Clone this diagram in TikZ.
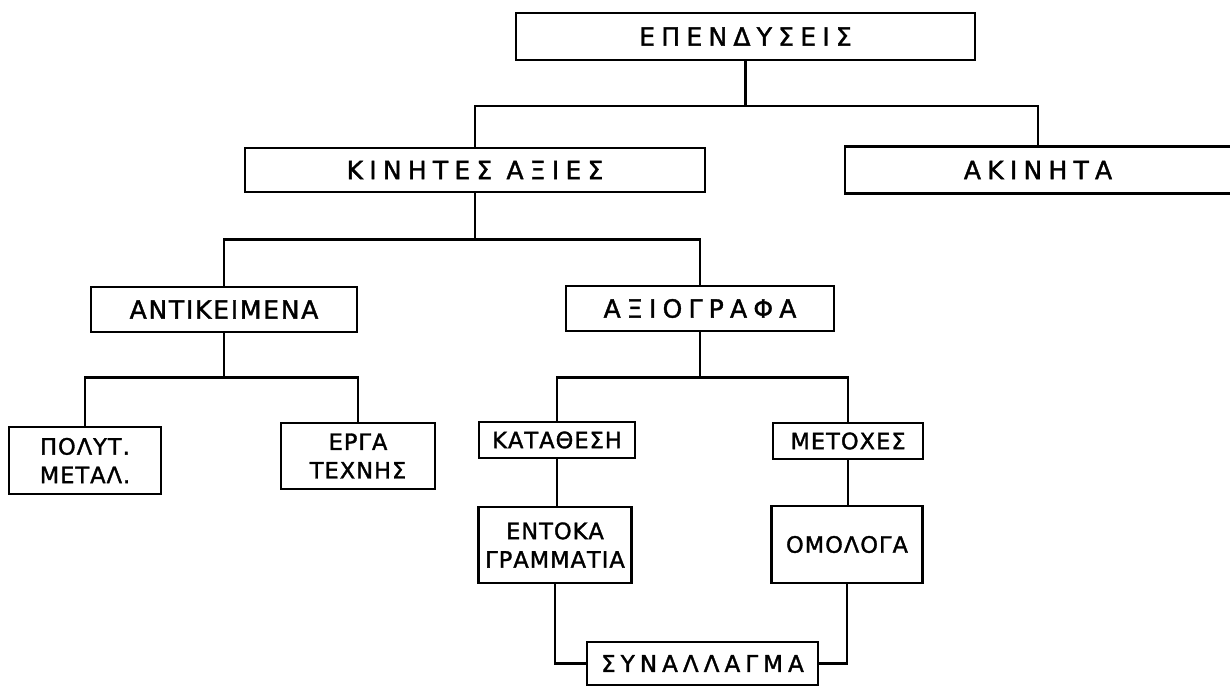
\documentclass[tikz,border=0pt]{standalone}
\usepackage{fontspec}
\newfontfamily\fwide[LetterSpace=25,FakeBold=1.5]{DejaVu Sans}
\newfontfamily\fmid[LetterSpace=7,FakeBold=1.5]{DejaVu Sans}
\newfontfamily\fsyn[LetterSpace=22,FakeBold=1.5]{DejaVu Sans}
\newfontfamily\fsmall[LetterSpace=4.5,FakeBold=1.5]{DejaVu Sans}
\tikzset{
  box/.style={draw=black, line width=2.5pt, inner sep=0pt, rectangle, text=black},
  bigbox/.style={box, font={\fontsize{25}{30}\fwide}},
  midbox/.style={box, font={\fontsize{25}{30}\fmid}},
  synbox/.style={box, font={\fontsize{23}{28}\fsyn}},
  smallbox/.style={box, font={\fontsize{22.5}{28.5}\fsmall}, align=center},
  link/.style={line width=2.5pt, draw=black}
}
\begin{document}
\begin{tikzpicture}[x=1pt, y=-1pt]
\useasboundingbox (0,0) rectangle (1230,687);
% level 0
\node[bigbox, minimum width=459pt, minimum height=47pt] (top) at (745.5,36.5) {ΕΠΕΝΔΥΣΕΙΣ};
% level 1
\node[bigbox, minimum width=460pt, minimum height=44pt] (kin) at (475,170) {ΚΙΝΗΤΕΣ ΑΞΙΕΣ};
\node[bigbox, draw=none, minimum width=384pt, minimum height=44pt] (akin) at (1038,170) {ΑΚΙΝΗΤΑ};
\draw[link] (akin.north east) -- (akin.north west) -- (akin.south west) -- (akin.south east);
% level 2
\node[midbox, minimum width=266pt, minimum height=45pt] (ant) at (224,309.5) {ΑΝΤΙΚΕΙΜΕΝΑ};
\node[bigbox, minimum width=268pt, minimum height=45pt] (axi) at (700,308.5) {ΑΞΙΟΓΡΑΦΑ};
% level 3
\node[smallbox, minimum width=152pt, minimum height=67pt] (pol) at (85,460.5) {ΠΟΛΥΤ.\\ΜΕΤΑΛ.};
\node[smallbox, minimum width=154pt, minimum height=66pt] (erg) at (358,456) {ΕΡΓΑ\\ΤΕΧΝΗΣ};
\node[smallbox, minimum width=156pt, minimum height=36pt] (kat) at (557,440) {ΚΑΤΑΘΕΣΗ};
\node[smallbox, minimum width=150pt, minimum height=36pt] (met) at (848,441) {ΜΕΤΟΧΕΣ};
% level 4
\node[smallbox, minimum width=153pt, minimum height=76pt] (ent) at (555,545) {ΕΝΤΟΚΑ\\ΓΡΑΜΜΑΤΙΑ};
\node[smallbox, minimum width=151pt, minimum height=77pt] (omo) at (847,544.5) {ΟΜΟΛΟΓΑ};
% level 5
\node[synbox, minimum width=231pt, minimum height=43pt] (syn) at (702.5,663.5) {ΣΥΝΑΛΛΑΓΜΑ};
% connectors
\draw[link] (top.south) -- ++(0,45) coordinate (j1);
\draw[link] (kin.north) |- (j1) -| (akin.north);
\draw[link] (kin.south) -- ++(0,46) coordinate (j2);
\draw[link] (ant.north) |- (j2) -| (axi.north);
\draw[link] (ant.south) -- ++(0,44) coordinate (j3);
\draw[link] (pol.north) |- (j3) -| (erg.north);
\draw[link] (axi.south) -- ++(0,45) coordinate (j4);
\draw[link] (kat.north) |- (j4) -| (met.north);
\draw[link] (kat.south) -- (kat.south |- ent.north);
\draw[link] (met.south) -- (met.south |- omo.north);
\draw[link] (ent.south) |- (syn.west);
\draw[link] (omo.south) |- (syn.east);
\end{tikzpicture}
\end{document}
